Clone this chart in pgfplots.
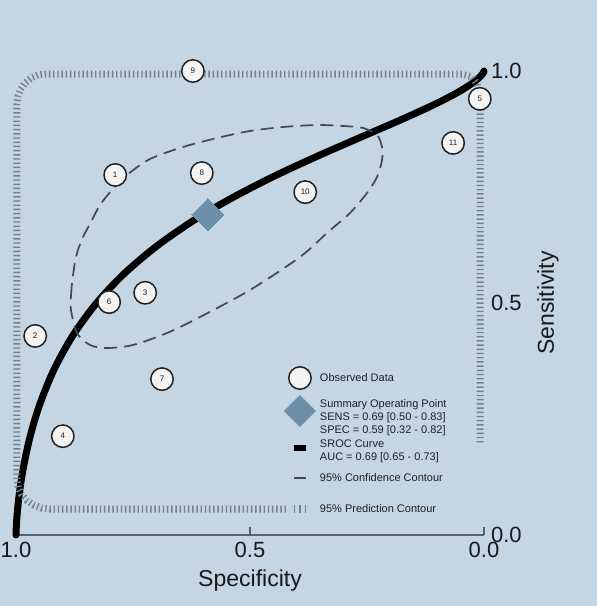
\documentclass[border=0pt]{standalone}
\usepackage{fontspec}
\setmainfont{Liberation Sans}
\usepackage{pgfplots}
\pgfplotsset{compat=1.18}

\definecolor{bgblue}{RGB}{196,214,227}
\definecolor{ptfill}{RGB}{243,243,243}
\definecolor{ptedge}{RGB}{34,34,34}
\definecolor{summ}{RGB}{110,143,168}
\definecolor{confc}{RGB}{68,72,78}
\definecolor{predc}{RGB}{118,126,134}
\definecolor{axisc}{RGB}{90,96,104}

\begin{document}
\begin{tikzpicture}
\fill[bgblue] (-8pt,-35.5pt) rectangle (290.5pt,267.5pt);
\begin{axis}[
  at={(0pt,0pt)}, anchor=south west,
  scale only axis, width=234pt, height=232pt,
  xmin=0, xmax=1, ymin=0, ymax=1, x dir=reverse,
  clip=false,
  axis x line*=bottom, axis y line*=right,
  x axis line style={draw=axisc, line width=0.7pt},
  y axis line style={draw=none},
  xtick={0,0.5,1}, xticklabels={0.0,0.5,1.0},
  ytick={0,0.5,1}, yticklabels={0.0,0.5,1.0},
  xtick align=inside, major tick length=4pt,
  xtick style={draw=axisc, line width=0.7pt},
  ytick style={draw=none},
  tick label style={font=\fontsize{11}{13}\selectfont, text=black!90},
  legend cell align=left,
  legend style={at={(axis description cs:0.5726,0.3664)}, anchor=north west,
    draw=none, fill=none, inner sep=0pt, outer sep=0pt,
    font=\fontsize{5.5}{6.5}\selectfont, text=black!88},
]

% observed studies
\addplot[forget plot, only marks, mark=*, mark size=5.6pt,
  mark options={fill=ptfill, draw=ptedge, line width=0.75pt},
  nodes near coords, point meta=explicit symbolic,
  every node near coord/.style={anchor=center, font=\fontsize{4}{4}\selectfont, text=ptedge}]
  table[x=spec, y=sens, meta=id] {
spec  sens  id
0.788 0.776 1
0.959 0.429 2
0.724 0.522 3
0.900 0.213 4
0.009 0.940 5
0.801 0.502 6
0.688 0.336 7
0.603 0.780 8
0.622 1.000 9
0.382 0.739 10
0.066 0.845 11
};

% summary operating point
\addplot[forget plot, only marks, mark=square*, mark size=5.66pt,
  mark options={rotate=45, fill=summ, draw=summ, line width=0pt}]
  coordinates {(0.59,0.69)};

% SROC curve
\addplot[forget plot, black, line width=3.5pt, line cap=round, smooth, tension=0.5]
  coordinates {
(1.000,0.0000) (0.999,0.0246) (0.997,0.0511) (0.993,0.0882)
(0.985,0.1413) (0.970,0.2116) (0.950,0.2792) (0.920,0.3539)
(0.880,0.4276) (0.830,0.4973) (0.770,0.5621) (0.700,0.6221)
(0.620,0.6782) (0.540,0.7256) (0.450,0.7724) (0.360,0.8146)
(0.270,0.8544) (0.180,0.8937) (0.110,0.9259) (0.060,0.9517)
(0.030,0.9702) (0.010,0.9860) (0.002,0.9954) (0.000,1.0000)};

% 95% confidence region
\addplot[forget plot, confc, line width=0.85pt, dash pattern=on 6.5pt off 3.5pt, smooth, tension=0.5]
  coordinates {
(0.8825,0.5151) (0.8803,0.5431) (0.8739,0.5884) (0.8675,0.6142)
(0.8568,0.6422) (0.8376,0.6789) (0.8205,0.7112) (0.7949,0.7435)
(0.7628,0.7759) (0.7137,0.8103) (0.6432,0.8362) (0.5705,0.8556)
(0.5000,0.8707) (0.4295,0.8793) (0.3568,0.8836) (0.3013,0.8815)
(0.2585,0.8772) (0.2286,0.8621) (0.2179,0.8362) (0.2179,0.8082)
(0.2286,0.7716) (0.2500,0.7371) (0.2863,0.6940) (0.3355,0.6509)
(0.3932,0.5991) (0.5000,0.5280) (0.6068,0.4698) (0.6774,0.4353)
(0.7500,0.4095) (0.8056,0.4030) (0.8419,0.4095) (0.8697,0.4353)
(0.8825,0.4849) (0.8825,0.5151)};

% 95% prediction region
\addplot[forget plot, predc, line width=3.5pt, line cap=butt, dash pattern=on 0.7pt off 1.4pt]
  coordinates {
(0.4231,0.0560) (0.9274,0.0560) (0.9455,0.0583) (0.9626,0.0646)
(0.9771,0.0745) (0.9885,0.0875) (0.9955,0.1026) (0.9979,0.1188)
(0.9979,0.9287) (0.9957,0.9456) (0.9897,0.9611) (0.9803,0.9745)
(0.9679,0.9849) (0.9534,0.9914) (0.9380,0.9935) (0.0470,0.9935)
(0.0256,0.9870) (0.0150,0.9720) (0.0085,0.9480) (0.0085,0.1987)};

% legend keys
\addlegendimage{legend image code/.code={
    \path[draw=none, fill=none] (-8pt,-6.5pt) rectangle (8pt,6.5pt);
    \draw[solid, fill=ptfill, draw=ptedge, line width=0.75pt] (0pt,0pt) circle [radius=5.6pt];}}
\addlegendentry{\begin{tabular}{@{}l@{}}Observed Data\end{tabular}}
\addlegendimage{legend image code/.code={
    \path[draw=none, fill=none] (-8pt,-10pt) rectangle (8pt,10pt);
    \fill[summ, draw=none] (0pt,8pt) -- (8pt,0pt) -- (0pt,-8pt) -- (-8pt,0pt) -- cycle;}}
\addlegendentry{\begin{tabular}{@{}l@{}}Summary Operating Point\\SENS = 0.69 [0.50 - 0.83]\\SPEC = 0.59 [0.32 - 0.82]\end{tabular}}
\addlegendimage{legend image code/.code={
    \path[draw=none, fill=none] (-8pt,-8.5pt) rectangle (8pt,8.5pt);
    \fill[black, draw=none] (-3.2pt,-1.7pt) rectangle (3.2pt,1.7pt);}}
\addlegendentry{\begin{tabular}{@{}l@{}}SROC Curve\\AUC = 0.69 [0.65 - 0.73]\end{tabular}}
\addlegendimage{legend image code/.code={
    \path[draw=none, fill=none] (-8pt,-6.5pt) rectangle (8pt,6.5pt);
    \draw[solid, confc, line width=0.7pt] (-3.2pt,0pt) -- (3.2pt,0pt);}}
\addlegendentry{\begin{tabular}{@{}l@{}}95\% Confidence Contour\end{tabular}}
\addlegendimage{legend image code/.code={
    \path[draw=none, fill=none] (-8pt,-9pt) rectangle (8pt,9pt);
    \draw[solid, predc, line width=0.6pt] (-2.6pt,-1.8pt) -- (-2.6pt,1.8pt)
      (0pt,-1.8pt) -- (0pt,1.8pt) (2.6pt,-1.8pt) -- (2.6pt,1.8pt);}}
\addlegendentry{\begin{tabular}{@{}l@{}}95\% Prediction Contour\end{tabular}}

\end{axis}
\node[font=\fontsize{11.5}{13}\selectfont, text=black!90]
  at ([yshift=-23pt]current axis.south) {Specificity};
\node[font=\fontsize{11.5}{13}\selectfont, text=black!90, rotate=90]
  at ([xshift=32pt]current axis.east) {Sensitivity};
\pgfresetboundingbox
\useasboundingbox (-8pt,-35.5pt) rectangle (290.5pt,267.5pt);
\end{tikzpicture}
\end{document}
